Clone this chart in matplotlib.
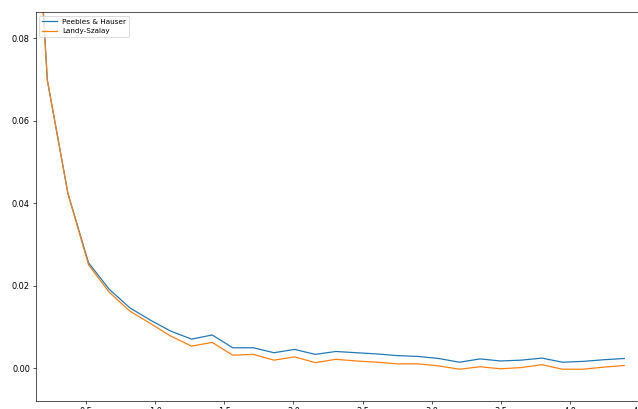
import matplotlib
matplotlib.use("Agg")
import matplotlib.pyplot as plt

# separation bins and the two correlation estimators
r = [0.071, 0.22, 0.369, 0.518, 0.667, 0.816, 0.965, 1.114, 1.263, 1.412,
     1.561, 1.71, 1.859, 2.008, 2.157, 2.306, 2.455, 2.604, 2.753, 2.902,
     3.051, 3.2, 3.349, 3.498, 3.647, 3.796, 3.945, 4.094, 4.243, 4.392]

xi_ph = [0.155, 0.0699, 0.0424, 0.0256, 0.0192, 0.0147, 0.0117, 0.0090, 0.0071, 0.0081,
         0.0050, 0.0050, 0.0038, 0.0046, 0.0034, 0.0041, 0.0038, 0.0035, 0.0031, 0.0029,
         0.0024, 0.0015, 0.0023, 0.0018, 0.0020, 0.0025, 0.0015, 0.0017, 0.0021, 0.0024]

xi_ls = [0.155, 0.0699, 0.0424, 0.0251, 0.0185, 0.0139, 0.0109, 0.0078, 0.0054, 0.0063,
         0.0032, 0.0034, 0.0020, 0.0028, 0.0014, 0.0022, 0.0018, 0.0015, 0.0011, 0.0011,
         0.0006, -0.0002, 0.0004, -0.0001, 0.0002, 0.0009, -0.0002, -0.0002, 0.0003, 0.0007]

fig = plt.figure(figsize=(638 / 59, 409 / 59), dpi=59)
ax = fig.add_axes([35.7 / 638, 8 / 409, (650 - 35.7) / 638, (401 - 12.3) / 409])

ax.plot(r, xi_ph, label='Peebles & Hauser')
ax.plot(r, xi_ls, label='Landy-Szalay')

ax.set_xlim(0.136, 4.578)
ax.set_ylim(-0.0079, 0.0863)
ax.legend(loc='upper left', fontsize=8.8)

fig.savefig("out.png", dpi=59)
